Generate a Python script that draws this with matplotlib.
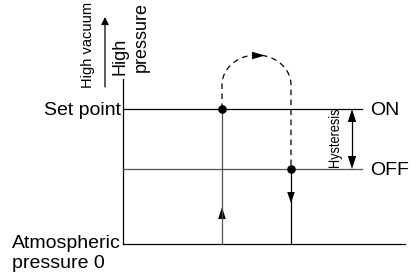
import matplotlib
matplotlib.use("Agg")
import matplotlib.pyplot as plt
import numpy as np
from matplotlib.patches import Polygon, PathPatch
from matplotlib.textpath import TextPath
from matplotlib.font_manager import FontProperties
from matplotlib.transforms import Affine2D

plt.rcParams['font.family'] = ['Liberation Sans', 'DejaVu Sans']

# ---- data (schematic levels / times) ----
t_end = 282          # end of time axis
t_on = 99            # time pressure rises through set point (ON)
t_off = 168          # time pressure falls through OFF level
p_axis_top = 165     # top of the pressure axis
p_on = 135           # set point (ON)
p_off = 75           # OFF level
p_shoulder = 159     # where the dashed excursion starts curving
p_peak = 189         # peak of dashed excursion
labels_left = ["Set point", "Atmospheric", "pressure 0"]
labels_right = ["ON", "OFF"]

fig = plt.figure(figsize=(4.16, 2.72), dpi=100)
ax = fig.add_axes([0, 0, 1, 1])
ax.set_xlim(-123, 293)
ax.set_ylim(-28, 244)
ax.axis('off')

lw = 0.9
grey = '#555555'
# axes
ax.plot([0, 0], [0, p_axis_top], color='black', lw=lw)
ax.plot([0, t_end], [0, 0], color='black', lw=lw)
# ON / OFF lines
ax.plot([0, 239], [p_on, p_on], color='black', lw=lw)
ax.plot([0, 239], [p_off, p_off], color=grey, lw=lw)
# verticals
ax.plot([t_on, t_on], [0, p_on], color=grey, lw=lw)
ax.plot([t_off, t_off], [0, p_off], color='black', lw=lw)

# dashed excursion
cx = (t_on + t_off) / 2
rx = (t_off - t_on) / 2
ry = p_peak - p_shoulder
th = np.linspace(np.pi, 0, 80)
xs = np.concatenate([[t_on], cx + rx * np.cos(th), [t_off]])
ys = np.concatenate([[p_on], p_shoulder + ry * np.sin(th), [p_off]])
ax.plot(xs, ys, color='black', lw=lw, ls=(0, (4.5, 3.5)))

# dots
ax.plot([t_on, t_off], [p_on, p_off], 'o', color='black', ms=5.2)

def head(x, y, dx, dy, w=3.8):
    L = np.hypot(dx, dy)
    ux, uy = dx / L, dy / L
    px, py = -uy, ux
    bx, by = x - dx, y - dy
    tri = Polygon([[x, y], [bx + px * w, by + py * w], [bx - px * w, by - py * w]],
                  closed=True, color='black', lw=0)
    ax.add_patch(tri)

head(t_on, 37, 0, 12)
head(t_off, 41, 0, -11)
head(cx + 8.5, p_peak - 0.5, 13, 0)

# hysteresis double arrow
hx = 229
ax.plot([hx, hx], [p_off + 10, p_on - 10], color='black', lw=lw)
head(hx, p_on, 0, 13, w=4.2)
head(hx, p_off, 0, -13, w=4.2)

# condensed rotated "Hysteresis" label (data units == pixels here)
tp = TextPath((0, 0), "Hysteresis", size=15, prop=FontProperties(family='Liberation Sans'))
ext = tp.get_extents()
sx = 58.0 / ext.width
tr = (Affine2D().translate(-(ext.x0 + ext.x1) / 2, -(ext.y0 + ext.y1) / 2)
      .scale(sx, 1.0).rotate_deg(90).translate(212, (p_on + p_off) / 2))
ax.add_patch(PathPatch(tr.transform_path(tp), color='black', lw=0))

# left top indicator
ax.annotate("", xy=(-18, 227), xytext=(-18, 157),
            arrowprops=dict(arrowstyle='-|>', color='black', lw=lw,
                            mutation_scale=11, shrinkA=0, shrinkB=0))
ax.text(-35, 199, "High vacuum", rotation=90, ha='center', va='center', fontsize=10.5)
ax.text(-3, 188, "High", rotation=90, ha='center', va='center', fontsize=13)
ax.text(18.5, 206.5, "pressure", rotation=90, ha='center', va='center', fontsize=13)

fs = 14
ax.text(-2, 129, labels_left[0], ha='right', va='baseline', fontsize=fs)
ax.text(-111, -4, labels_left[1], ha='left', va='baseline', fontsize=fs)
ax.text(-111, -24, labels_left[2], ha='left', va='baseline', fontsize=fs)
ax.text(247, 129, labels_right[0], ha='left', va='baseline', fontsize=fs)
ax.text(247, 69, labels_right[1], ha='left', va='baseline', fontsize=fs)

fig.savefig("out.png", dpi=100)
